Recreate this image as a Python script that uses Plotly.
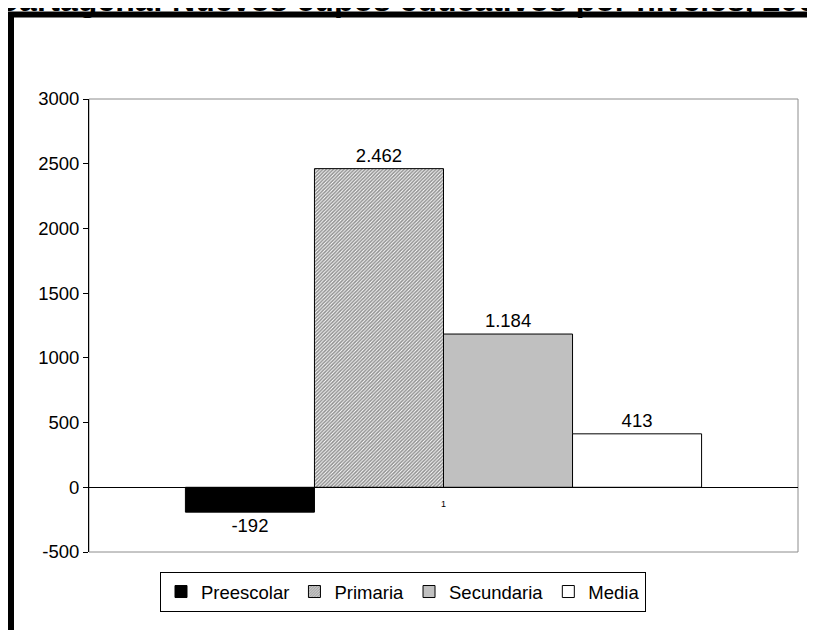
import plotly.graph_objects as go

# ---- data ----
categories = ["1"]
series_names = ["Preescolar", "Primaria", "Secundaria", "Media"]
series_values = [-192, 2462, 1184, 413]
title_text = "Cartagena: Nuevos cupos educativos por niveles, 2006"
y_tick_values = [-500, 0, 500, 1000, 1500, 2000, 2500, 3000]
y_tick_labels = ["-500", "0", "500", "1000", "1500", "2000", "2500", "3000"]
y_range = [-500, 3000]

# ---- pixel geometry helpers (page is shown with an 8px offset) ----
OFF = 8
W, H = 815, 630
L, R, T, B = 89 - OFF, 17 + OFF, 99 - OFF, 78 + OFF
PW, PH = W - L - R, H - T - B


def px_x(px):
    return (px - OFF - L) / PW


def px_y(py):
    return (H - B - (py - OFF)) / PH


FONT = "Liberation Sans, Arial, sans-serif"

styles = {
    "Preescolar": dict(color="#000000"),
    "Primaria": dict(color="#ffffff",
                     pattern=dict(shape="/", fgcolor="#1e1e1e", bgcolor="#ffffff",
                                  size=2.5, solidity=0.6, fillmode="overlay")),
    "Secundaria": dict(color="#c0c0c0"),
    "Media": dict(color="#ffffff"),
}

fig = go.Figure()
for name, val in zip(series_names, series_values):
    st = styles[name]
    marker = dict(color=st["color"], line=dict(color="#000000", width=1))
    if "pattern" in st:
        marker["pattern"] = st["pattern"]
    fig.add_trace(go.Bar(
        name=name, x=categories, y=[val], marker=marker,
        texttemplate="%{y:,}", textposition="outside",
        textfont=dict(family=FONT, size=18.5, color="#000000"),
        cliponaxis=False,
    ))

zero_pos = (0 - y_range[0]) / (y_range[1] - y_range[0])

fig.update_layout(
    width=W, height=H,
    margin=dict(l=L, r=R, t=T, b=B, pad=0),
    paper_bgcolor="#ffffff", plot_bgcolor="#ffffff",
    separators=",.",
    barmode="group", bargap=0.272, bargroupgap=0,
    font=dict(family=FONT, size=18.5, color="#000000"),
    showlegend=True,
    legend=dict(orientation="h", x=px_x(403), y=px_y(572),
                xanchor="center", yanchor="top",
                bordercolor="#000000", borderwidth=1, bgcolor="#ffffff",
                font=dict(family=FONT, size=18.5, color="#000000"),
                itemwidth=30, traceorder="normal"),
    xaxis=dict(type="category", range=[-0.5, 0.5], anchor="free", position=zero_pos,
               showline=True, linecolor="#000000", linewidth=1, ticks="",
               showgrid=False, zeroline=False,
               tickfont=dict(family=FONT, size=9, color="#000000"),
               ticklabelstandoff=8),
    yaxis=dict(range=y_range, tickmode="array", tickvals=y_tick_values,
               ticktext=y_tick_labels, showline=True, linecolor="#000000",
               linewidth=1, ticks="outside", ticklen=5, tickcolor="#000000",
               showgrid=False, zeroline=False,
               tickfont=dict(family=FONT, size=18.5, color="#000000")),
    shapes=[
        dict(type="rect", xref="x domain", yref="y domain", x0=0, x1=1, y0=0, y1=1,
             line=dict(color="#8c8c8c", width=1), layer="below"),
        dict(type="rect", xref="paper", yref="paper",
             x0=px_x(11), x1=px_x(950), y0=px_y(14.5), y1=px_y(760),
             line=dict(color="#000000", width=6), fillcolor="rgba(0,0,0,0)"),
    ],
    annotations=[
        dict(text="<b>" + title_text + "</b>", xref="paper", yref="paper",
             x=px_x(-6), y=px_y(20), xanchor="left", yanchor="bottom",
             showarrow=False, font=dict(family=FONT, size=32, color="#000000")),
    ],
)

fig.write_html("out.html")
